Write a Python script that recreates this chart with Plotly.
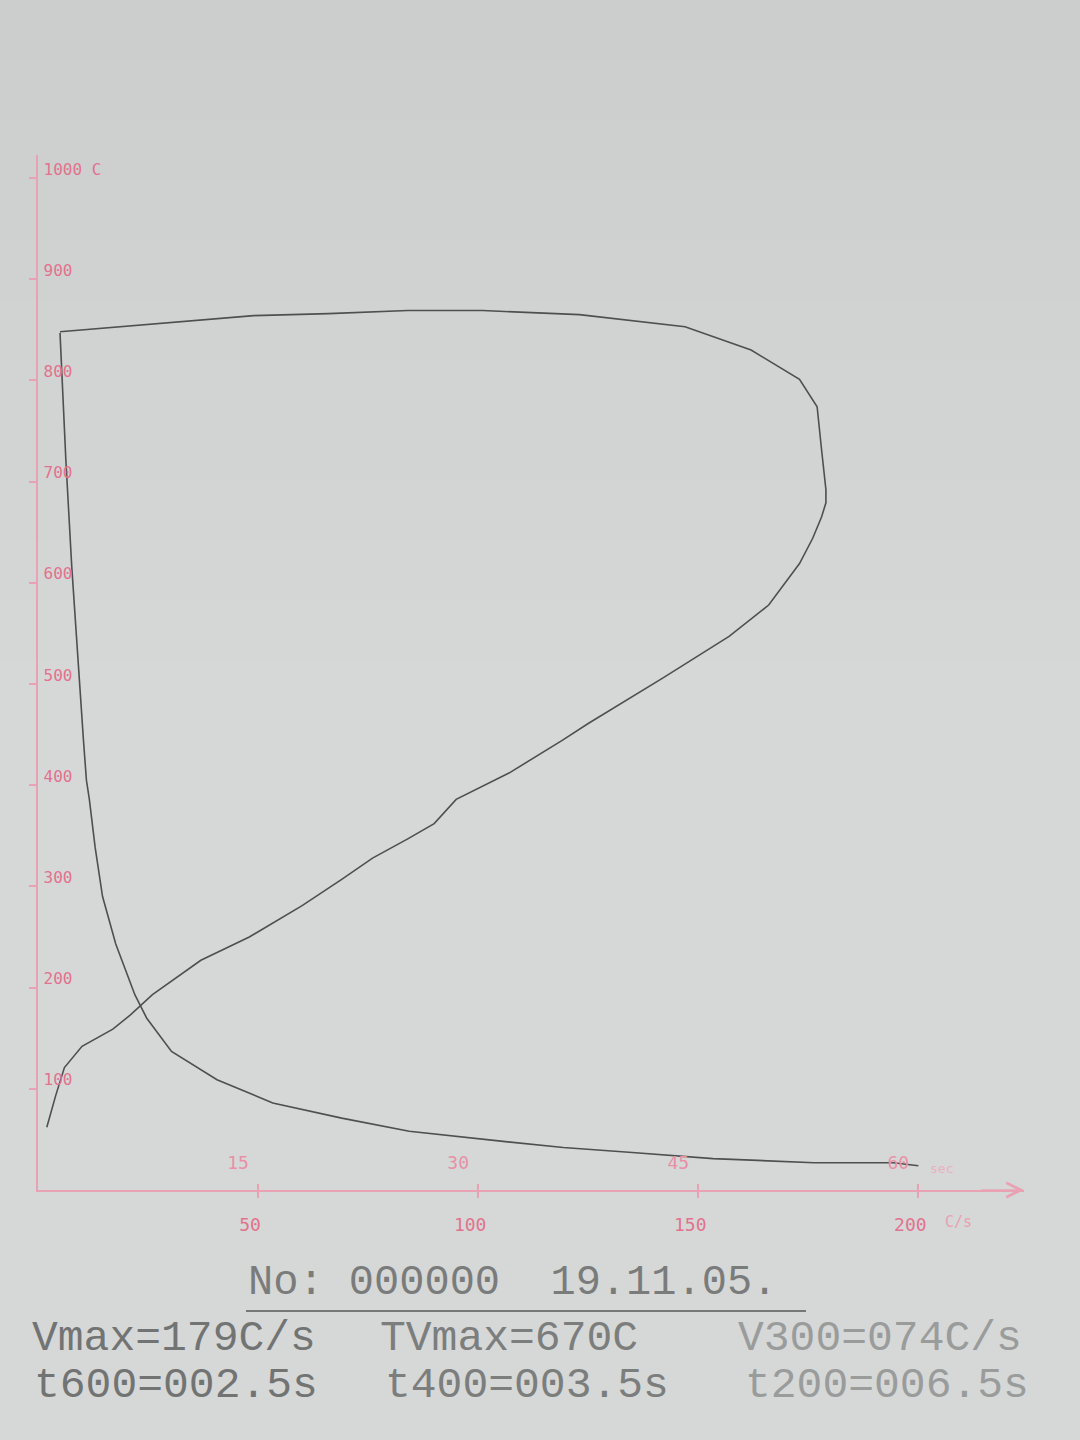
import plotly.graph_objects as go

# ---------------- data ----------------
# Temperature (C) versus cooling rate (C/s)
rate_cps = [5, 22, 49, 66, 84, 101, 123, 147, 162, 173, 177, 178, 179, 179, 178,
            176, 173, 166, 157, 142, 125, 119, 107, 95, 90, 84, 76, 69, 60, 48,
            37, 26, 21, 17, 10, 6, 4, 2]
rate_temp = [848, 854, 864, 866, 869, 869, 865, 853, 830, 801, 774, 732, 692, 679, 665,
             644, 619, 578, 547, 506, 461, 444, 412, 386, 362, 347, 328, 307, 281, 250,
             227, 193, 173, 159, 142, 121, 93, 62]

# Temperature (C) versus time (s)
time_s = [1.5, 1.9, 2.3, 2.75, 3.1, 3.3, 3.5, 3.9, 4.4, 5.3, 6.6, 7.4, 9.1, 12.2,
          16.0, 20.7, 25.3, 31.7, 35.8, 40.5, 46.0, 52.9, 58.3, 60.0]
time_temp = [847, 721, 616, 513, 444, 405, 386, 338, 290, 243, 193, 170, 137, 109,
             86, 71, 58, 48, 42, 37, 31, 27, 27, 24]

temp_ticks = [100, 200, 300, 400, 500, 600, 700, 800, 900, 1000]
temp_tick_labels = ["100", "200", "300", "400", "500", "600", "700", "800", "900", "1000 C"]
rate_ticks = [50, 100, 150, 200]
rate_tick_labels = ["50", "100", "150", "200"]
time_ticks = [15, 30, 45, 60]
time_tick_labels = ["15", "30", "45", "60"]

header_text = "No: 000000  19.11.05."
summary_row1 = ["Vmax=179C/s", "TVmax=670C", "V300=074C/s"]
summary_row2 = ["t600=002.5s", "t400=003.5s", "t200=006.5s"]

# ---------------- layout helpers ----------------
W, H = 1080, 1440
L, R, T, B = 38, 56, 155, 250
PW, PH = W - L - R, H - T - B


def px_x(px):
    return (px - L) / PW


def px_y(py):
    return (H - B - py) / PH


PINK_TXT = "#e2728e"
PINK_LINE = "#e8a2b3"
CURVE = "#4d5050"
BG = "#d5d7d6"
MONO = "DejaVu Sans Mono"
TXT_FONT = "Liberation Mono"

fig = go.Figure()
fig.add_trace(go.Scatter(x=rate_cps, y=rate_temp, mode="lines",
                         line=dict(color=CURVE, width=1.6), xaxis="x", yaxis="y",
                         name="rate", showlegend=False, hoverinfo="skip"))
fig.add_trace(go.Scatter(x=time_s, y=time_temp, mode="lines",
                         line=dict(color=CURVE, width=1.6), xaxis="x2", yaxis="y",
                         name="time", showlegend=False, hoverinfo="skip"))

x_max = 224
fig.update_layout(
    template="none",
    width=W, height=H,
    margin=dict(l=L, r=R, t=T, b=B, pad=0),
    paper_bgcolor=BG, plot_bgcolor="rgba(0,0,0,0)",
    showlegend=False,
    xaxis=dict(range=[0, x_max], tickvals=rate_ticks, ticktext=rate_tick_labels,
               showgrid=False, zeroline=False, showline=True, linecolor=PINK_LINE,
               linewidth=1.5, ticks="outside", ticklen=6, tickwidth=1.5,
               tickcolor=PINK_LINE, ticklabelstandoff=12, ticklabelshift=-8,
               tickfont=dict(family=MONO, size=18, color=PINK_TXT),
               automargin=False, fixedrange=True),
    xaxis2=dict(range=[0, x_max * 60 / 200], overlaying="x", anchor="y", side="bottom",
                tickvals=time_ticks, ticktext=time_tick_labels,
                showgrid=False, zeroline=False, showline=False,
                ticks="inside", ticklen=6, tickwidth=1.5, tickcolor=PINK_LINE,
                ticklabelposition="inside", ticklabelstandoff=12, ticklabelshift=-20,
                tickfont=dict(family=MONO, size=18, color="#e890a6"),
                automargin=False, fixedrange=True),
    yaxis=dict(range=[0, PH / 1.012], tickvals=temp_ticks, ticktext=temp_tick_labels,
               showgrid=False, zeroline=False, showline=True, linecolor=PINK_LINE,
               linewidth=1.5, ticks="outside", ticklen=7, tickwidth=1.5,
               tickcolor=PINK_LINE, ticklabelposition="inside", ticklabelstandoff=6,
               ticklabelshift=-9,
               tickfont=dict(family=MONO, size=16, color=PINK_TXT),
               automargin=False, fixedrange=True),
)

# soft vertical shading of the photographed paper (slightly darker at the top)
shapes = []
bands = 24
top_rgb = (204, 206, 205)
mid_rgb = (214, 216, 215)
for i in range(bands):
    y0 = i * H / bands
    y1 = (i + 1) * H / bands
    f = min(1.0, (y0 + y1) / 2 / 700.0)
    c = tuple(int(round(a + (b - a) * f)) for a, b in zip(top_rgb, mid_rgb))
    shapes.append(dict(type="rect", xref="paper", yref="paper", layer="below",
                       x0=px_x(0), x1=px_x(W), y0=px_y(y1), y1=px_y(y0),
                       fillcolor="rgb(%d,%d,%d)" % c, line=dict(width=0)))
shapes.append(dict(type="line", xref="paper", yref="paper",
                   x0=px_x(246), x1=px_x(806), y0=px_y(1311), y1=px_y(1311),
                   line=dict(color="#767878", width=2)))
fig.update_layout(shapes=shapes)

annotations = [
    # axis arrowheads
    dict(x=x_max, y=0, ax=x_max - 10, ay=0, xref="x", yref="y", axref="x", ayref="y",
         showarrow=True, arrowhead=5, arrowsize=2.2, arrowwidth=1.3,
         arrowcolor=PINK_LINE, text=""),
    # unit labels
    dict(x=px_x(943), y=px_y(1222), xref="paper", yref="paper", text="C/s",
         showarrow=False, xanchor="left", yanchor="middle",
         font=dict(family=MONO, size=15, color="#e9a0b2")),
    dict(x=px_x(928), y=px_y(1168), xref="paper", yref="paper", text="sec",
         showarrow=False, xanchor="left", yanchor="middle",
         font=dict(family=MONO, size=13, color="#eab0bf")),
    dict(x=px_x(246), y=px_y(1283), xref="paper", yref="paper", text=header_text,
         showarrow=False, xanchor="left", yanchor="middle",
         font=dict(family=TXT_FONT, size=42, color="#7a7c7c")),
]

row_lefts = [30, 378, 736]
row_colors = ["#727474", "#7c7e7e", "#9a9c9c"]
for txt, xl, col in zip(summary_row1, row_lefts, row_colors):
    annotations.append(dict(x=px_x(xl), y=px_y(1338), xref="paper", yref="paper",
                            text=txt, showarrow=False, xanchor="left", yanchor="middle",
                            font=dict(family=TXT_FONT, size=43, color=col)))
row2_lefts = [32, 383, 743]
for txt, xl, col in zip(summary_row2, row2_lefts, row_colors):
    annotations.append(dict(x=px_x(xl), y=px_y(1385), xref="paper", yref="paper",
                            text=txt, showarrow=False, xanchor="left", yanchor="middle",
                            font=dict(family=TXT_FONT, size=43, color=col)))
fig.update_layout(annotations=annotations)

fig.write_html("out.html",
               config={"displayModeBar": False},
               post_script="document.body.style.margin='0';document.body.style.background='%s';" % BG)
